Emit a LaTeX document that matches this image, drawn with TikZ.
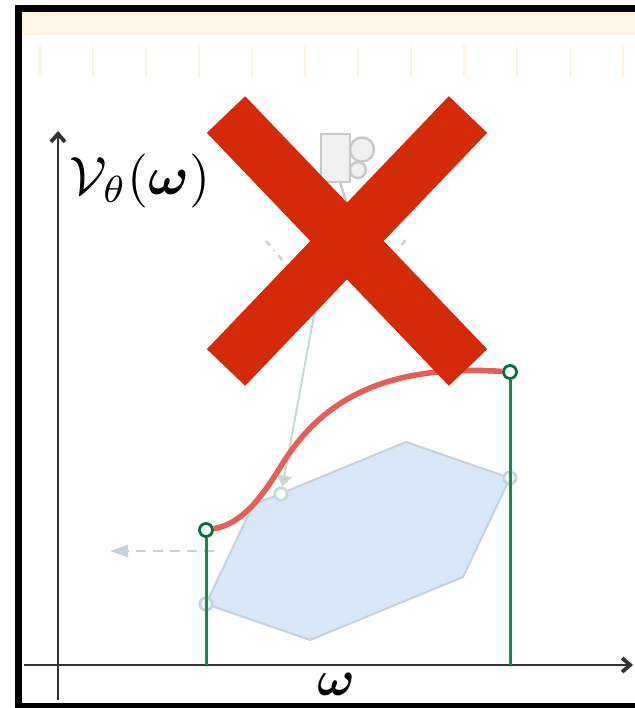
\documentclass[tikz,border=0pt]{standalone}
\usepackage{amsmath,amssymb}
\usepackage{xcolor}
\usetikzlibrary{arrows.meta,positioning,calc}
\definecolor{bandfill}{HTML}{FFF7E8}
\definecolor{bandline}{HTML}{FFF3DA}
\definecolor{axiscol}{HTML}{333333}
\definecolor{polyfill}{HTML}{D8E8F8}
\definecolor{polyline}{HTML}{C8D0DC}
\definecolor{valred}{HTML}{E45F5B}
\definecolor{dropgreen}{HTML}{0F8F4D}
\definecolor{dotgreen}{HTML}{0A6B3C}
\definecolor{palegreen}{HTML}{C4DCCF}
\definecolor{camline}{HTML}{C8C8C8}
\definecolor{conecol}{HTML}{D8CCCC}
\definecolor{crossred}{HTML}{D42A0A}
\tikzset{
  frame/.style    ={draw=black, line width=7pt},
  band/.style     ={draw=bandline, line width=1.2pt, fill=bandfill},
  ticklet/.style  ={draw=bandline, line width=1.8pt},
  axis/.style     ={draw=axiscol, line width=2.6pt, -{Straight Barb[length=8pt,width=14pt,line width=3.8pt]}},
  poly/.style     ={draw=polyline, line width=2pt, fill=polyfill, line join=round},
  valcurve/.style ={draw=valred, line width=5.6pt},
  drop/.style     ={draw=dropgreen, line width=3pt},
  endpt/.style    ={circle, draw=dotgreen, line width=2.8pt, fill=white, minimum size=13pt, inner sep=0pt},
  polypt/.style   ={circle, draw=polyline, line width=2.6pt, fill=polyfill!40, minimum size=12.5pt, inner sep=0pt},
  greenpt/.style  ={circle, draw=palegreen, line width=2.6pt, fill=white, minimum size=12.5pt, inner sep=0pt},
  ray/.style      ={draw=palegreen, line width=2pt, -{Triangle[length=11pt,width=15pt]}},
  grad/.style     ={draw=polyline, line width=2pt, dash pattern=on 10pt off 7pt, -{Triangle[length=18pt,width=12pt]}},
  cam/.style      ={draw=camline, line width=2.4pt, fill=black!6},
  cone/.style     ={draw=conecol, line width=2.6pt, dash pattern=on 6pt off 6pt on 1pt off 6pt},
  crossbar/.style ={draw=crossred, line width=53pt},
  biglabel/.style ={inner sep=0pt},
}
\begin{document}
\begin{tikzpicture}[x=1pt,y=-1pt]
  \useasboundingbox (0,0) rectangle (634,708);
  % top strip
  \fill[band] (22,14) rectangle (640,34);
  \foreach \tx in {40,93,...,623}
    \draw[ticklet] (\tx,45) -- (\tx,77);
  \draw[frame] (640,9) -- (18,9) -- (18,706) -- (640,706);
  % axes
  \coordinate (xfrom) at (24,665);
  \coordinate (xto) at (633,665);
  \coordinate (yfrom) at (58,700);
  \coordinate (yto) at (58,131);
  \draw[axis] (xfrom) -- (xto);
  \draw[axis] (yfrom) -- (yto);
  \node[biglabel] (ylab) at (140,181) {\scalebox{5.4}{$\mathcal{V}_{\theta}(\boldsymbol{\omega})$}};
  \node[biglabel] (xlab) at (336,684) {\scalebox{5}{$\boldsymbol{\omega}$}};
  % camera
  \draw[cam] (340,182) -- (347,204);
  \node[cam, minimum width=29pt, minimum height=48pt, inner sep=0pt] (body) at (335.5,158) {};
  \node[cam, circle, minimum size=24pt, inner sep=0pt] (reel1) at (362,149.5) {};
  \node[cam, circle, minimum size=16pt, inner sep=0pt] (reel2) at (358,170) {};
  \coordinate (eye) at (327,245);
  \coordinate (coneL) at (266,241);
  \coordinate (coneLend) at (300,281);
  \coordinate (coneR) at (405,240);
  \coordinate (coneRend) at (395,256);
  \draw[cone] (coneL) -- (coneLend);
  \draw[cone] (coneR) -- (coneRend);
  % feasible polygon
  \coordinate (p1) at (206,604);
  \coordinate (p2) at (253,505);
  \coordinate (p3) at (406,442);
  \coordinate (p4) at (510,478);
  \coordinate (p5) at (463,577);
  \coordinate (p6) at (310,640);
  \draw[poly] (p1) -- (p2) -- (p3) -- (p4) -- (p5) -- (p6) -- cycle;
  \node[polypt] (a) at (p1) {};
  \node[polypt] (b) at (p4) {};
  \node[greenpt] (c) at (281,494) {};
  \draw[ray] (eye) -- (c);
  % dashed arrow
  \coordinate (gfrom) at (214,551);
  \coordinate (gto) at (110,551);
  \draw[grad] (gfrom) -- (gto);
  % value curve
  \coordinate (xa) at (206,665);
  \coordinate (xb) at (510,665);
  \node[endpt] (lo) at (206,530) {};
  \node[endpt] (hi) at (510,372) {};
  \draw[drop] (lo) -- (xa);
  \draw[drop] (hi) -- (xb);
  \draw[valcurve] (lo) .. controls (242,524) and (262,497) .. (281,466)
    .. controls (312,416) and (366,362) .. (hi);
  % cross on top
  \coordinate (ca) at (226,114.5);
  \coordinate (cb) at (468,367.5);
  \coordinate (cc) at (468,114.5);
  \coordinate (cd) at (226,367.5);
  \draw[crossbar] (ca) -- (cb);
  \draw[crossbar] (cc) -- (cd);
\end{tikzpicture}
\end{document}
